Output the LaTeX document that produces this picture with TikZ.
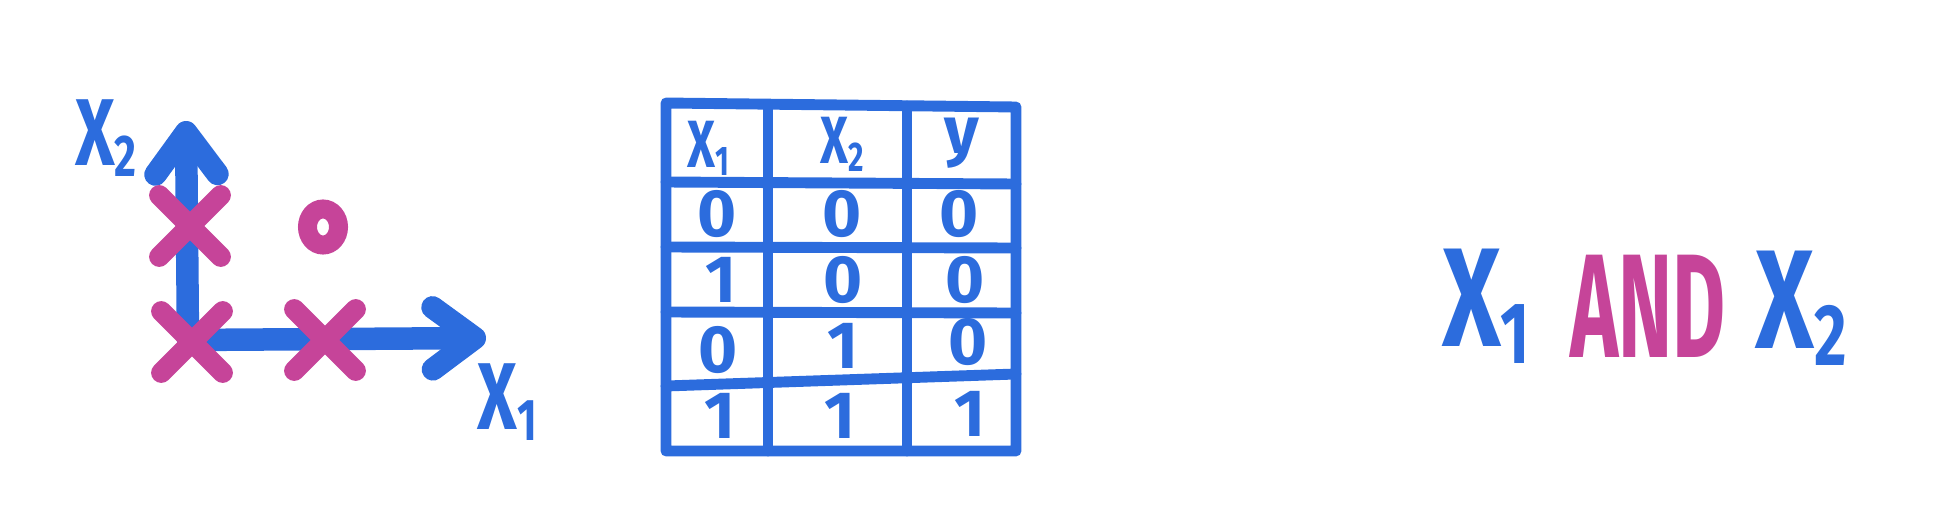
\documentclass[tikz,border=0pt]{standalone}
\usepackage{fontspec}
\setmainfont{Fira Sans}
\usetikzlibrary{arrows.meta,shapes.misc,shapes.geometric}
\definecolor{pblue}{RGB}{44,108,221}
\definecolor{ppink}{RGB}{198,68,153}
\newcommand{\sbs}[1]{\raisebox{-0.12em}{\scalebox{0.62}{#1}}}
\newcommand{\narrow}[1]{\scalebox{0.72}[1]{#1}}
\begin{document}
\begin{tikzpicture}[x=0.01cm,y=-0.01cm,
  axisline/.style={pblue, line width=6.4pt, line cap=round, line join=round,
    -{Straight Barb[length=0.42cm,width=0.62cm,line cap=round,line join=round]}},
  gridline/.style={pblue, line width=3.1pt, line cap=round, line join=round},
  xmark/.style={cross out, draw=ppink, line width=5.8pt, line cap=round, minimum size=0.41cm, inner sep=0pt},
  omark/.style={ellipse, draw=ppink, line width=5.4pt, minimum width=0.31cm, minimum height=0.36cm, inner sep=0pt},
  axlabel/.style={text=pblue, font=\bfseries\fontsize{27}{30}\selectfont, inner sep=0pt},
  cell/.style={text=pblue, font=\bfseries\fontsize{19}{21}\selectfont, inner sep=0pt},
  big/.style={font=\bfseries\fontsize{40}{44}\selectfont, inner sep=0pt}]
\useasboundingbox (0,0) rectangle (1952,506);

% ---- plot ----
\coordinate (O) at (188,340);
\coordinate (ytip) at (186,121);
\coordinate (xtip) at (486,338);
\draw[axisline] (O) -- (ytip);
\draw[axisline] (O) -- (xtip);
\node[axlabel] (lx2) at (106,138) {\narrow{X\sbs{2}}};
\node[axlabel] (lx1) at (507,402) {\narrow{X\sbs{1}}};
\node[xmark] (p01) at (190,226) {};
\node[xmark] (p00) at (192,342) {};
\node[xmark] (p10) at (325,340) {};
\node[omark] (p11) at (323,227) {};

% ---- table ----
\coordinate (tl) at (666,103);
\coordinate (tr) at (1016,107);
\coordinate (bl) at (666,451);
\coordinate (br) at (1016,451);
\draw[gridline] (tl) -- (tr) -- (br) -- (bl) -- cycle;
\coordinate (v1t) at (768,106); \coordinate (v1b) at (768,451);
\coordinate (v2t) at (907,106); \coordinate (v2b) at (907,451);
\draw[gridline] (v1t) -- (v1b);
\draw[gridline] (v2t) -- (v2b);
\coordinate (h1l) at (666,182); \coordinate (h1r) at (1016,184);
\coordinate (h2l) at (666,247); \coordinate (h2r) at (1016,248);
\coordinate (h3l) at (666,312); \coordinate (h3r) at (1016,313);
\coordinate (h4l) at (666,386); \coordinate (h4r) at (1016,374);
\draw[gridline] (h1l) -- (h1r);
\draw[gridline] (h2l) -- (h2r);
\draw[gridline] (h3l) -- (h3r);
\draw[gridline] (h4l) -- (h4r);

\node[cell] (hx1) at (708,148) {\narrow{X\sbs{1}}};
\node[cell] (hx2) at (842,144) {\narrow{X\sbs{2}}};
\node[cell] (hy)  at (962,143) {y};

\node[cell] (a1) at (717,214) {0};
\node[cell] (b1) at (842,214) {0};
\node[cell] (c1) at (959,214) {0};
\node[cell] (a2) at (721,280) {1};
\node[cell] (b2) at (843,280) {0};
\node[cell] (c2) at (965,280) {0};
\node[cell] (a3) at (718,350) {0};
\node[cell] (b3) at (843,346) {1};
\node[cell] (c3) at (968,342) {0};
\node[cell] (a4) at (720,416) {1};
\node[cell] (b4) at (840,416) {1};
\node[cell] (c4) at (970,414) {1};

% ---- expression ----
\node[big, text=pblue] (ex1) at (1486,306) {\narrow{X\sbs{1}}};
\node[big, text=ppink] (eand) at (1648,306) {\scalebox{0.58}[1.05]{AND}};
\node[big, text=pblue] (ex2) at (1801,308) {\narrow{X\sbs{2}}};
\end{tikzpicture}
\end{document}
